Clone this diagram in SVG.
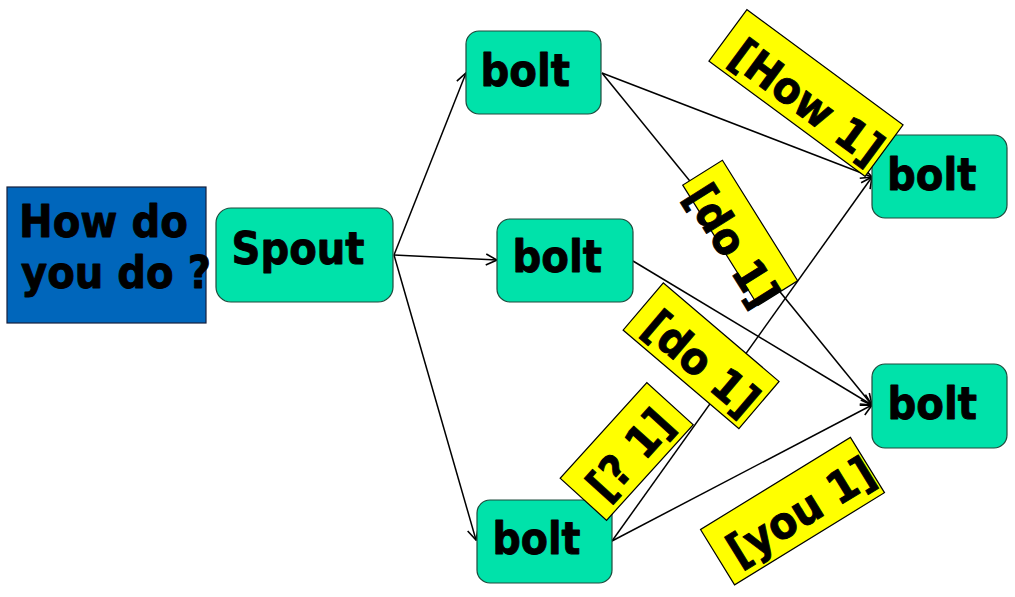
<svg xmlns="http://www.w3.org/2000/svg" width="1015" height="597" viewBox="0 0 1015 597">
  <style>
    .bolt { fill: #00E2AA; stroke: #1E4A3C; stroke-width: 1.2; }
    .t { font-family: "DejaVu Sans", "Liberation Sans", sans-serif; font-weight: bold; font-size: 44px; fill: #000; stroke: #000; stroke-width: 0.9; stroke-linejoin: round; }
    .lbl { fill: #FFFF00; stroke: #000; stroke-width: 1.2; }
    .edge { fill: none; stroke: #000; stroke-width: 1.5; }
  </style>
  <defs>
    <marker id="arr" viewBox="0 0 13 13" refX="12" refY="6.5" markerWidth="13" markerHeight="13" markerUnits="userSpaceOnUse" orient="auto">
      <path d="M1,1 L12,6.5 L1,12" fill="none" stroke="#000" stroke-width="1.6"/>
    </marker>
  </defs>
  <rect width="1015" height="597" fill="#FFFFFF"/>

  <g id="connectors">
    <line class="edge" x1="394" y1="255" x2="466" y2="73" marker-end="url(#arr)"/>
    <line class="edge" x1="394" y1="255" x2="497" y2="260" marker-end="url(#arr)"/>
    <line class="edge" x1="394" y1="255" x2="476" y2="540" marker-end="url(#arr)"/>
    <line class="edge" x1="602" y1="73" x2="872" y2="177" marker-end="url(#arr)"/>
    <line class="edge" x1="602" y1="73" x2="872" y2="405" marker-end="url(#arr)"/>
    <line class="edge" x1="633" y1="261" x2="872" y2="405" marker-end="url(#arr)"/>
    <line class="edge" x1="612" y1="541" x2="872" y2="177" marker-end="url(#arr)"/>
    <line class="edge" x1="612" y1="541" x2="872" y2="405" marker-end="url(#arr)"/>
  </g>

  <g id="input">
    <rect x="7" y="187" width="199" height="136" fill="#0066BB" stroke="#141E3C" stroke-width="1.2"/>
    <text class="t" x="19" y="237" textLength="169" lengthAdjust="spacingAndGlyphs">How do</text>
    <text class="t" x="21" y="288" textLength="190" lengthAdjust="spacingAndGlyphs">you do ?</text>
  </g>

  <g id="spout">
    <rect class="bolt" x="216" y="208" width="177" height="94" rx="15" ry="15"/>
    <text class="t" x="231.5" y="264" textLength="133" lengthAdjust="spacingAndGlyphs">Spout</text>
  </g>

  <g id="bolt-top">
    <rect class="bolt" x="466" y="31" width="135" height="83" rx="13" ry="13"/>
    <text class="t" x="480.5" y="86" textLength="89.5" lengthAdjust="spacingAndGlyphs">bolt</text>
  </g>
  <g id="bolt-mid">
    <rect class="bolt" x="497" y="219" width="136" height="83" rx="13" ry="13"/>
    <text class="t" x="512.5" y="272" textLength="89.5" lengthAdjust="spacingAndGlyphs">bolt</text>
  </g>
  <g id="bolt-bottom">
    <rect class="bolt" x="477" y="500" width="135" height="83" rx="13" ry="13"/>
    <text class="t" x="492.5" y="554" textLength="88" lengthAdjust="spacingAndGlyphs">bolt</text>
  </g>
  <g id="bolt-right-top">
    <rect class="bolt" x="872" y="135" width="135" height="83" rx="13" ry="13"/>
    <text class="t" x="887" y="190" textLength="89.5" lengthAdjust="spacingAndGlyphs">bolt</text>
  </g>
  <g id="bolt-right-bottom">
    <rect class="bolt" x="872" y="364" width="135" height="84" rx="13" ry="13"/>
    <text class="t" x="887.5" y="419" textLength="89.5" lengthAdjust="spacingAndGlyphs">bolt</text>
  </g>

  <g id="labels">
    <g id="label-how" transform="translate(806,93) rotate(36.4)">
      <rect class="lbl" x="-97" y="-32" width="194" height="64"/>
      <text class="t" x="6" y="22" text-anchor="middle" textLength="177" lengthAdjust="spacingAndGlyphs">[How 1]</text>
    </g>
    <g id="label-do-upper" transform="translate(740.2,232.9) rotate(58)">
      <rect class="lbl" x="-71" y="-23.4" width="142" height="46.8"/>
      <text class="t" x="6.5" y="29" text-anchor="middle" textLength="135" lengthAdjust="spacingAndGlyphs">[do 1]</text>
    </g>
    <g id="label-do-lower" transform="translate(701.1,355.8) rotate(40.4)">
      <rect class="lbl" x="-76" y="-31" width="152" height="62"/>
      <text class="t" x="5" y="21" text-anchor="middle" textLength="135" lengthAdjust="spacingAndGlyphs">[do 1]</text>
    </g>
    <g id="label-q" transform="translate(626.7,451.5) rotate(-47.8)">
      <rect class="lbl" x="-64.5" y="-31.3" width="129" height="62.6"/>
      <text class="t" x="0" y="20" text-anchor="middle" textLength="104" lengthAdjust="spacingAndGlyphs">[? 1]</text>
    </g>
    <g id="label-you" transform="translate(792.5,511.1) rotate(-31.6)">
      <rect class="lbl" x="-88" y="-32.5" width="176" height="65"/>
      <text class="t" x="7" y="20" text-anchor="middle" textLength="164" lengthAdjust="spacingAndGlyphs">[you 1]</text>
    </g>
  </g>
</svg>
